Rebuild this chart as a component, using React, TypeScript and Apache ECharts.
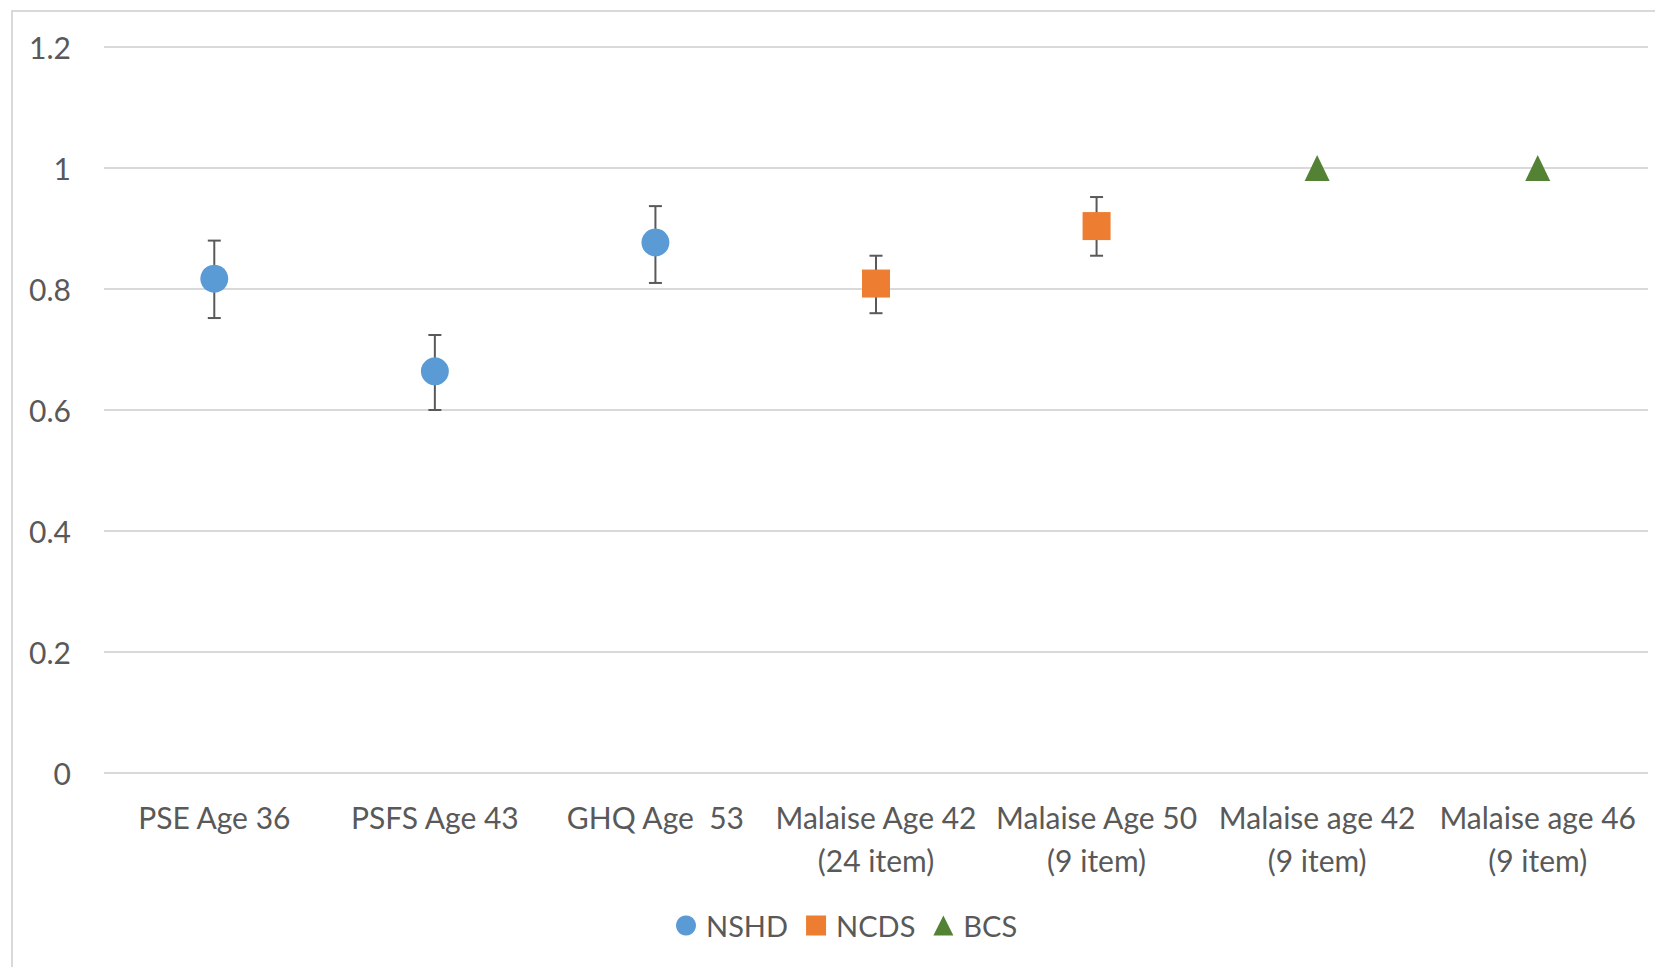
import React, { useEffect, useRef } from "react";
import * as echarts from "echarts";

const categories = [
  "PSE Age 36",
  "PSFS Age 43",
  "GHQ Age  53",
  "Malaise Age 42\n(24 item)",
  "Malaise Age 50\n(9 item)",
  "Malaise age 42\n(9 item)",
  "Malaise age 46\n(9 item)",
];
const nshdValues: (number | null)[] = [0.817, 0.664, 0.877, null, null, null, null];
const ncdsValues: (number | null)[] = [null, null, null, 0.809, 0.904, null, null];
const bcsValues: (number | null)[] = [null, null, null, null, null, 1.0, 1.0];
const errLow: (number | null)[] = [0.752, 0.6, 0.81, 0.76, 0.855, null, null];
const errHigh: (number | null)[] = [0.88, 0.724, 0.937, 0.855, 0.952, null, null];
const yTicks = { min: 0, max: 1.2, interval: 0.2 };

const FONT = "Lato, 'Open Sans', sans-serif";
const TEXT = "#595959";

function pairs(vals: (number | null)[]) {
  const out: [number, number][] = [];
  vals.forEach((v, i) => {
    if (v !== null) out.push([i, v]);
  });
  return out;
}

export default function App() {
  const ref = useRef<HTMLDivElement>(null);
  useEffect(() => {
    if (!ref.current) return;
    const chart = echarts.init(ref.current, undefined, { renderer: "svg" });
    const errData: [number, number, number][] = [];
    errLow.forEach((lo, i) => {
      const hi = errHigh[i];
      if (lo !== null && hi !== null) errData.push([i, lo, hi]);
    });
    chart.setOption({
      animation: false,
      backgroundColor: "#ffffff",
      graphic: [
        {
          type: "rect",
          shape: { x: 12, y: 11, width: 1700, height: 1000 },
          style: { fill: "none", stroke: "#D9D9D9", lineWidth: 2 },
          silent: true,
          z: -10,
        },
      ],
      grid: { left: 104, right: 7, top: 47, bottom: 194, containLabel: false },
      legend: {
        left: 671,
        top: 906,
        itemWidth: 20,
        itemHeight: 20,
        itemGap: 18,
        textStyle: {
          fontFamily: FONT,
          fontSize: 29,
          color: TEXT,
          padding: [0, 0, 0, 5],
        },
        data: [
          { name: "NSHD", icon: "circle" },
          { name: "NCDS", icon: "rect" },
          { name: "BCS", icon: "triangle" },
        ],
      },
      xAxis: {
        type: "category",
        data: categories,
        boundaryGap: true,
        axisLine: { show: false },
        axisTick: { show: false },
        axisLabel: {
          interval: 0,
          margin: 22,
          fontFamily: FONT,
          fontSize: 30,
          lineHeight: 43,
          color: TEXT,
        },
        splitLine: { show: false },
      },
      yAxis: {
        type: "value",
        min: yTicks.min,
        max: yTicks.max,
        interval: yTicks.interval,
        axisLine: { show: false },
        axisTick: { show: false },
        axisLabel: {
          margin: 33,
          fontFamily: FONT,
          fontSize: 30,
          color: TEXT,
        },
        splitLine: { lineStyle: { color: "#D9D9D9", width: 2 } },
      },
      series: [
        {
          type: "custom",
          name: "errors",
          z: 1,
          silent: true,
          data: errData,
          encode: { x: 0, y: [1, 2] },
          renderItem: (params: any, api: any) => {
            const x = api.value(0);
            const lo = api.coord([x, api.value(1)]);
            const hi = api.coord([x, api.value(2)]);
            const half = 6.5;
            const style = { stroke: "#595959", lineWidth: 2 };
            return {
              type: "group",
              children: [
                { type: "line", shape: { x1: lo[0], y1: lo[1], x2: hi[0], y2: hi[1] }, style },
                { type: "line", shape: { x1: lo[0] - half, y1: lo[1], x2: lo[0] + half, y2: lo[1] }, style },
                { type: "line", shape: { x1: hi[0] - half, y1: hi[1], x2: hi[0] + half, y2: hi[1] }, style },
              ],
            };
          },
        },
        {
          type: "scatter",
          name: "NSHD",
          symbol: "circle",
          symbolSize: 28,
          z: 3,
          itemStyle: { color: "#5B9BD5", opacity: 1 },
          data: pairs(nshdValues),
        },
        {
          type: "scatter",
          name: "NCDS",
          symbol: "rect",
          symbolSize: 28,
          z: 3,
          itemStyle: { color: "#ED7D31", opacity: 1 },
          data: pairs(ncdsValues),
        },
        {
          type: "scatter",
          name: "BCS",
          symbol: "triangle",
          symbolSize: [25, 26],
          z: 3,
          itemStyle: { color: "#548235", opacity: 1 },
          data: pairs(bcsValues),
        },
      ],
    });
    return () => chart.dispose();
  }, []);
  return (
    <div
      ref={ref}
      style={{ position: "absolute", left: 0, top: 0, width: 1655, height: 967 }}
    />
  );
}
